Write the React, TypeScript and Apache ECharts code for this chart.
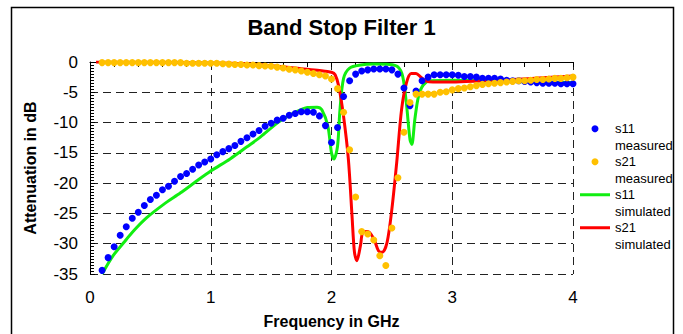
import React, { useEffect, useRef } from 'react';
import * as echarts from 'echarts';

const FONT = '"Liberation Sans", Arial, sans-serif';

const measuredFreq = [
  0.05, 0.1, 0.15, 0.2, 0.25, 0.3, 0.35, 0.4, 0.45, 0.5,
  0.55, 0.6, 0.65, 0.7, 0.75, 0.8, 0.85, 0.9, 0.95, 1.0,
  1.05, 1.1, 1.15, 1.2, 1.25, 1.3, 1.35, 1.4, 1.45, 1.5,
  1.55, 1.6, 1.65, 1.7, 1.75, 1.8, 1.85, 1.9, 1.95, 2.0,
  2.05, 2.1, 2.15, 2.2, 2.25, 2.3, 2.35, 2.4, 2.45, 2.5,
  2.55, 2.6, 2.65, 2.7, 2.75, 2.8, 2.85, 2.9, 2.95, 3.0,
  3.05, 3.1, 3.15, 3.2, 3.25, 3.3, 3.35, 3.4, 3.45, 3.5,
  3.55, 3.6, 3.65, 3.7, 3.75, 3.8, 3.85, 3.9, 3.95, 4.0,
];

const s11Measured = [
  null, -34.4, -32.3, -30.5, -28.6, -27.2, -25.8, -24.8, -23.7, -22.7,
  -22.0, -21.1, -20.5, -19.7, -18.9, -18.4, -17.7, -17.0, -16.5, -16.0,
  -15.3, -14.8, -14.3, -13.8, -13.1, -12.5, -11.9, -11.3, -10.6, -10.1,
  -9.6, -9.3, -8.8, -8.5, -8.2, -8.2, -8.3, -8.9, -10.5, -13.3,
  -10.8, -5.7, -3.1, -2.0, -1.5, -1.3, -1.15, -1.15, -1.15, -1.3,
  -2.0, -4.3, -7.2, -4.8, -3.1, -2.5, -2.1, -2.1, -2.1, -2.1,
  -2.2, -2.4, -2.4, -2.5, -2.7, -2.7, -2.7, -2.8, -3.0, -3.1,
  -3.1, -3.2, -3.3, -3.4, -3.5, -3.5, -3.5, -3.6, -3.6, -3.6,
];

const s21Measured = [
  0.1, -0.1, -0.1, -0.1, -0.1, -0.1, -0.1, -0.1, -0.1, -0.1,
  -0.1, -0.1, -0.1, -0.1, -0.1, -0.2, -0.2, -0.2, -0.2, -0.2,
  -0.2, -0.3, -0.35, -0.4, -0.4, -0.5, -0.5, -0.6, -0.65, -0.7,
  -0.85, -1.0, -1.2, -1.3, -1.5, -1.7, -1.9, -2.1, -2.3, -2.8,
  -4.4, -8.3, -14.5, -22.3, -28.0, -28.4, -29.4, -32.0, -33.6, -27.4,
  -19.1, -11.6, -6.7, -5.3, -5.3, -5.3, -5.3, -5.0, -4.9, -4.6,
  -4.4, -4.3, -4.1, -3.9, -3.7, -3.6, -3.5, -3.4, -3.3, -3.2,
  -3.1, -3.1, -3.0, -2.9, -2.9, -2.8, -2.7, -2.7, -2.6, -2.5,
];

const s11SimFreq = [
  0.1, 0.19, 0.28, 0.36, 0.47, 0.61, 0.75, 0.88, 1.0, 1.16,
  1.3, 1.41, 1.57, 1.71, 1.8, 1.88, 1.92, 1.97, 2.0, 2.02,
  2.05, 2.07, 2.1, 2.15, 2.24, 2.35, 2.48, 2.55, 2.59, 2.62,
  2.65, 2.665, 2.69, 2.72, 2.76, 2.82, 3.0, 3.5, 4.0,
];
const s11Simulated = [
  -35, -32, -29.8, -27.9, -25.7, -23.5, -21.6, -19.7, -18.0, -16.0,
  -14.0, -12.4, -9.8, -8.2, -7.5, -7.45, -7.9, -10.6, -15.0, -16.0,
  -13.9, -7.9, -2.7, -1.0, -0.5, -0.35, -0.4, -0.8, -2.4, -6.8,
  -12.8, -13.6, -9.5, -5.7, -3.8, -3.1, -3.0, -3.2, -3.4,
];

const s21SimFreq = [
  0.05, 0.5, 1.0, 1.25, 1.5, 1.75, 1.9, 2.0, 2.03, 2.06,
  2.1, 2.14, 2.17, 2.19, 2.21, 2.24, 2.26, 2.3, 2.35, 2.39,
  2.42, 2.46, 2.5, 2.54, 2.58, 2.62, 2.66, 2.7, 2.74, 2.78,
  2.84, 3.0, 3.25, 3.5, 3.75, 4.0,
];
const s21Simulated = [
  0, -0.05, -0.15, -0.25, -0.6, -1.1, -1.4, -1.7, -2.1, -4.0,
  -9.0, -16.1, -25.4, -31.4, -32.8, -30.3, -28.1, -28.0, -29.2, -31.2,
  -31.4, -29.8, -24.3, -16.6, -7.9, -3.5, -1.9, -1.9, -2.5, -3.1,
  -3.3, -3.3, -3.1, -2.9, -2.6, -2.3,
];

const xTicks = { min: 0, max: 4, interval: 1 };
const yTicks = { min: -35, max: 0, interval: 5 };

const zip = (xs: number[], ys: (number | null)[]) => xs.map((x, i) => [x, ys[i]]);

const LINE_ICON = 'path://M0,0 L30,0 L30,3 L0,3 Z';

export default function App() {
  const ref = useRef<HTMLDivElement>(null);
  useEffect(() => {
    document.body.style.margin = '0';
    document.body.style.overflow = 'hidden';
    const chart = echarts.init(ref.current!, null, { renderer: 'svg' });
    const splitLine = { show: true, lineStyle: { color: '#222', width: 1, type: [8, 5] as any } };
    chart.setOption({
      animation: false,
      textStyle: { fontFamily: FONT },
      title: {
        text: 'Band Stop Filter 1',
        left: 'center',
        top: 16,
        padding: 0,
        textStyle: { fontFamily: FONT, fontSize: 22, fontWeight: 'bold', color: '#000' },
      },
      graphic: [
        {
          type: 'rect',
          shape: { x: 11.5, y: 7.5, width: 662, height: 340 },
          style: { fill: 'none', stroke: '#000', lineWidth: 1.5 },
          silent: true,
        },
      ],
      grid: { left: 90, right: 110, top: 62, bottom: 59 },
      legend: {
        orient: 'vertical',
        left: 580,
        top: 104,
        padding: 0,
        itemGap: -16.5,
        itemWidth: 30,
        itemHeight: 7,
        selectedMode: false,
        formatter: (name: string) => ' \n' + name,
        data: [
          { name: 's11\nmeasured', icon: 'circle' },
          { name: 's21\nmeasured', icon: 'circle' },
          { name: 's11\nsimulated', icon: LINE_ICON },
          { name: 's21\nsimulated', icon: LINE_ICON },
        ],
        textStyle: { fontFamily: FONT, fontSize: 13, lineHeight: 16.5, color: '#000' },
      },
      xAxis: {
        type: 'value',
        ...xTicks,
        name: 'Frequency in GHz',
        nameLocation: 'middle',
        nameGap: 39,
        nameTextStyle: { fontFamily: FONT, fontSize: 16, fontWeight: 'bold', color: '#000' },
        axisLine: { show: true, lineStyle: { color: '#000', width: 1 } },
        axisTick: { show: true, length: 5, lineStyle: { color: '#000' } },
        minorTick: { show: true, splitNumber: 5, length: 5, lineStyle: { color: '#000' } },
        axisLabel: { fontFamily: FONT, fontSize: 17, color: '#000', margin: 15 },
        splitLine,
      },
      yAxis: {
        type: 'value',
        ...yTicks,
        name: 'Attenuation in dB',
        nameLocation: 'middle',
        nameGap: 52,
        nameTextStyle: { fontFamily: FONT, fontSize: 16, fontWeight: 'bold', color: '#000' },
        axisLine: { show: true, lineStyle: { color: '#000', width: 1 } },
        axisTick: { show: true, inside: true, length: 5, lineStyle: { color: '#000' } },
        minorTick: { show: true, splitNumber: 10, length: 4, lineStyle: { color: '#000' } },
        axisLabel: { fontFamily: FONT, fontSize: 17, color: '#000', margin: 12 },
        splitLine,
      },
      series: [
        {
          name: 's11\nsimulated',
          type: 'line',
          data: zip(s11SimFreq, s11Simulated),
          symbol: 'none',
          smooth: 0.3,
          lineStyle: { color: '#11ee11', width: 3 },
          itemStyle: { color: '#11ee11' },
          z: 2,
        },
        {
          name: 's21\nsimulated',
          type: 'line',
          data: zip(s21SimFreq, s21Simulated),
          symbol: 'none',
          smooth: 0.3,
          lineStyle: { color: '#ff0000', width: 3 },
          itemStyle: { color: '#ff0000' },
          z: 2,
        },
        {
          name: 's11\nmeasured',
          type: 'scatter',
          data: zip(measuredFreq, s11Measured),
          symbolSize: 7,
          itemStyle: { color: '#0000ff', opacity: 1 },
          z: 3,
        },
        {
          name: 's21\nmeasured',
          type: 'scatter',
          data: zip(measuredFreq, s21Measured),
          symbolSize: 7,
          itemStyle: { color: '#ffc000', opacity: 1 },
          z: 3,
        },
      ],
    });
    return () => chart.dispose();
  }, []);
  return <div ref={ref} style={{ width: 683, height: 334 }} />;
}
